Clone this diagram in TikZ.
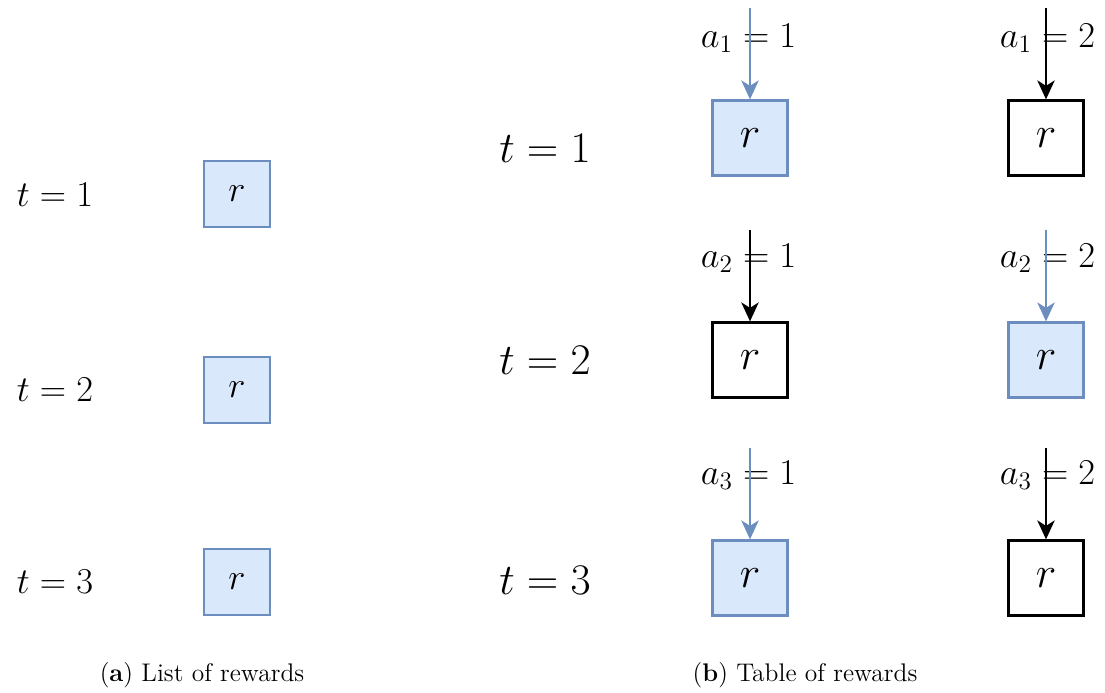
\documentclass[tikz,border=0pt]{standalone}
\usepackage{amsmath}
\usepackage{xcolor}
\usepackage{tikz}
\usetikzlibrary{arrows.meta,positioning}
\definecolor{rfill}{HTML}{DAE8FC}
\definecolor{rline}{HTML}{6C8EBF}
\newcommand{\rwd}{$r$}

\begin{document}
\begin{tikzpicture}[
  tlab/.style={font=\fontsize{22.5}{26}\selectfont, inner sep=0pt},
  tlabb/.style={font=\fontsize{23.5}{28}\selectfont, inner sep=0pt},
  alab/.style={font=\fontsize{22.5}{27}\selectfont, inner sep=0pt},
  captext/.style={font=\fontsize{14.5}{17}\selectfont, inner sep=0pt},
  cell/.style={draw, line width=1.3pt, inner sep=0pt},
  smallcell/.style={cell, minimum size=1.32cm, font=\fontsize{21}{25}\selectfont},
  bigcell/.style={cell, minimum size=1.5cm, font=\fontsize{25}{29}\selectfont},
  hit/.style={fill=rfill, draw=rline},
  miss/.style={fill=white, draw=black},
  arr/.style={-{Stealth[length=3.8mm, width=3.5mm, inset=1.1mm]}, line width=0.8pt},
  hitarr/.style={arr, draw=rline, fill=rline},
  missarr/.style={arr, draw=black, fill=black}]
\useasboundingbox (0,0) rectangle (22.1,-13.86);
% (a) list of rewards
\node[tlab] (la1) at (1.1,-3.9) {$t=1$};
\node[tlab] (la2) at (1.1,-7.8) {$t=2$};
\node[tlab] (la3) at (1.1,-11.64) {$t=3$};
\node[smallcell, hit] (ra1) at (4.74,-3.88) {\rwd};
\node[smallcell, hit] (ra2) at (4.74,-7.8) {\rwd};
\node[smallcell, hit] (ra3) at (4.74,-11.64) {\rwd};
\node[captext] (capa) at (4.04,-13.5) {(\textbf{a}) List of rewards};
% (b) table of rewards
\node[tlabb] (lb1) at (10.9,-2.96) {$t=1$};
\node[tlabb] (lb2) at (10.9,-7.2) {$t=2$};
\node[tlabb] (lb3) at (10.9,-11.6) {$t=3$};
\node[bigcell, hit]  (r11) at (15.0,-2.76) {\rwd};
\node[bigcell, miss] (r12) at (20.92,-2.76) {\rwd};
\node[bigcell, miss] (r21) at (15.0,-7.2) {\rwd};
\node[bigcell, hit]  (r22) at (20.92,-7.2) {\rwd};
\node[bigcell, hit]  (r31) at (15.0,-11.56) {\rwd};
\node[bigcell, miss] (r32) at (20.92,-11.56) {\rwd};
% action labels
\node[alab] (a11) at (14.97,-0.76) {$a_1=1$};
\node[alab] (a12) at (20.95,-0.76) {$a_1=2$};
\node[alab] (a21) at (14.97,-5.16) {$a_2=1$};
\node[alab] (a22) at (20.95,-5.16) {$a_2=2$};
\node[alab] (a31) at (14.97,-9.5) {$a_3=1$};
\node[alab] (a32) at (20.95,-9.5) {$a_3=2$};
\node[captext] (capb) at (16.1,-13.5) {(\textbf{b}) Table of rewards};
% arrow starts
\coordinate (s11) at (15.0,-0.16);
\coordinate (s12) at (20.92,-0.16);
\coordinate (s21) at (15.0,-4.6);
\coordinate (s22) at (20.92,-4.6);
\coordinate (s31) at (15.0,-8.96);
\coordinate (s32) at (20.92,-8.96);
% arrows
\foreach \c in {11,22,31} \draw[hitarr] (s\c) -- (r\c.north);
\foreach \c in {12,21,32} \draw[missarr] (s\c) -- (r\c.north);
\end{tikzpicture}
\end{document}
